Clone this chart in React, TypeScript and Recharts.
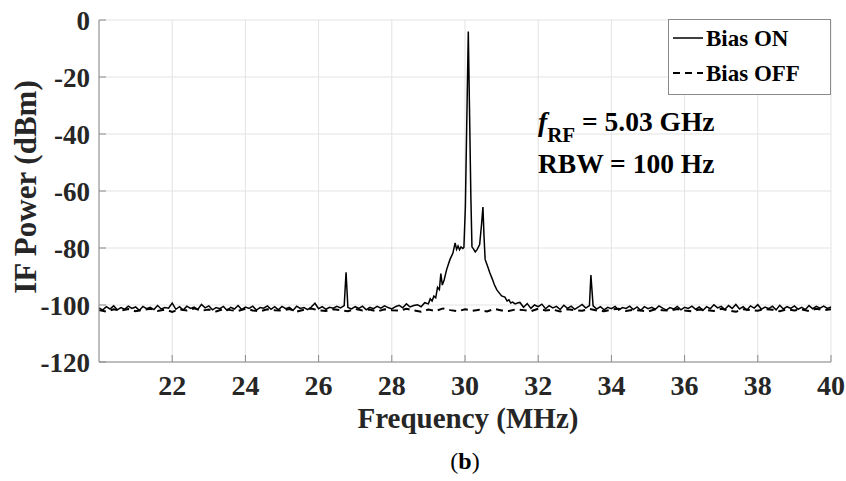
import React from "react";
import { LineChart, Line, XAxis, YAxis, CartesianGrid } from "recharts";

const onFreq = [
  20.0, 20.1, 20.2, 20.3, 20.4, 20.5, 20.6, 20.7, 20.8, 20.9,
  21.0, 21.1, 21.2, 21.3, 21.4, 21.5, 21.6, 21.7, 21.8, 21.9,
  22.0, 22.1, 22.2, 22.3, 22.4, 22.5, 22.6, 22.7, 22.8, 22.9,
  23.0, 23.1, 23.2, 23.3, 23.4, 23.5, 23.6, 23.7, 23.8, 23.9,
  24.0, 24.1, 24.2, 24.3, 24.4, 24.5, 24.6, 24.7, 24.8, 24.9,
  25.0, 25.1, 25.2, 25.3, 25.4, 25.5, 25.6, 25.7, 25.8, 25.9,
  26.0, 26.1, 26.2, 26.3, 26.4, 26.5, 26.6, 26.7, 26.75, 26.8, 26.9,
  27.0, 27.1, 27.2, 27.3, 27.4, 27.5, 27.6, 27.7, 27.8, 27.9,
  28.0, 28.1, 28.2, 28.3, 28.4, 28.5, 28.6, 28.7, 28.8, 28.9,
  29.0, 29.05, 29.1, 29.15, 29.2, 29.25, 29.3, 29.34, 29.38, 29.43,
  29.5, 29.59, 29.67, 29.73, 29.77, 29.81, 29.85, 29.89, 29.94, 29.97,
  30.01, 30.09, 30.16, 30.19, 30.23, 30.28, 30.33, 30.4, 30.45, 30.49,
  30.52, 30.55, 30.62, 30.68, 30.75, 30.8, 30.87, 30.95, 31.0, 31.09,
  31.15, 31.2, 31.25, 31.3, 31.37, 31.45,
  31.5, 31.6, 31.7, 31.8, 31.9, 32.0, 32.1, 32.2, 32.3, 32.4,
  32.5, 32.6, 32.7, 32.8, 32.9, 33.0, 33.1, 33.2, 33.3, 33.4, 33.44,
  33.5, 33.6, 33.7, 33.8, 33.9, 34.0, 34.1, 34.2, 34.3, 34.4,
  34.5, 34.6, 34.7, 34.8, 34.9, 35.0, 35.1, 35.2, 35.3, 35.4,
  35.5, 35.6, 35.7, 35.8, 35.9, 36.0, 36.1, 36.2, 36.3, 36.4,
  36.5, 36.6, 36.7, 36.8, 36.9, 37.0, 37.1, 37.2, 37.3, 37.4,
  37.5, 37.6, 37.7, 37.8, 37.9, 38.0, 38.1, 38.2, 38.3, 38.4,
  38.5, 38.6, 38.7, 38.8, 38.9, 39.0, 39.1, 39.2, 39.3, 39.4,
  39.5, 39.6, 39.7, 39.8, 39.9, 40.0,
];

const onPower = [
  -101.0, -101.8, -100.6, -101.4, -100.3, -101.7, -100.9, -101.5, -100.4, -101.2,
  -100.7, -101.9, -100.5, -101.3, -100.8, -101.6, -100.2, -101.4, -100.9, -101.1,
  -99.3, -101.5, -100.6, -101.8, -100.4, -101.2, -100.7, -101.6, -99.8, -101.0,
  -100.3, -101.7, -100.9, -101.3, -100.5, -101.9, -100.8, -101.4, -100.2, -101.6,
  -100.7, -101.2, -100.4, -101.8, -100.9, -101.1, -100.3, -101.5, -100.6, -101.7,
  -100.5, -101.3, -100.8, -101.9, -100.4, -101.2, -100.9, -101.6, -100.7, -99.4,
  -101.3, -100.6, -101.5, -100.8, -101.1, -100.5, -101.0, -100.2, -88.5, -100.9, -101.4,
  -100.6, -101.2, -100.4, -101.7, -100.8, -101.3, -100.5, -101.1, -100.3, -100.9,
  -101.4, -100.6, -100.1, -101.0, -99.6, -100.7, -100.2, -99.9, -100.6, -99.2,
  -99.6, -97.8, -98.6, -96.9, -97.5, -93.8, -94.6, -89.0, -93.0, -91.2,
  -87.5, -84.0, -81.8, -78.2, -80.5, -79.3, -80.6, -79.6, -80.2, -79.8,
  -65.6, -4.0, -62.0, -79.6, -80.3, -81.4, -80.6, -78.8, -72.0, -65.6,
  -76.0, -84.0, -86.5, -88.8, -91.0, -92.8, -94.7, -96.0, -96.8, -97.2,
  -98.6, -98.2, -99.3, -99.0, -99.6, -99.2,
  -99.1, -100.8, -99.5, -101.2, -100.0, -100.6, -99.7, -101.3, -100.2, -101.0,
  -100.5, -101.6, -100.1, -101.2, -100.4, -101.5, -100.7, -99.8, -101.1, -100.2, -89.5,
  -100.3, -101.4, -100.6, -101.7, -100.8, -101.3, -100.5, -101.8, -100.9, -101.2,
  -100.4, -101.6, -100.7, -101.9, -100.6, -101.3, -100.8, -101.5, -100.3, -101.1,
  -101.8, -100.9, -101.4, -100.5, -101.7, -100.8, -101.2, -100.4, -101.5, -100.7,
  -101.9, -100.6, -101.3, -99.9, -101.0, -100.5, -101.6, -100.2, -101.2, -99.8,
  -101.4, -100.6, -101.8, -100.3, -101.1, -99.9, -101.5, -100.7, -101.3, -100.4,
  -101.7, -100.1, -101.4, -100.6, -101.2, -100.3, -101.5, -100.8, -101.6, -100.2,
  -101.3, -100.5, -101.1, -100.4, -101.2, -100.7,
];

const offFreq = [
  20.0, 20.2, 20.4, 20.6, 20.8, 21.0, 21.2, 21.4, 21.6, 21.8,
  22.0, 22.2, 22.4, 22.6, 22.8, 23.0, 23.2, 23.4, 23.6, 23.8,
  24.0, 24.2, 24.4, 24.6, 24.8, 25.0, 25.2, 25.4, 25.6, 25.8,
  26.0, 26.2, 26.4, 26.6, 26.8, 27.0, 27.2, 27.4, 27.6, 27.8,
  28.0, 28.2, 28.4, 28.6, 28.8, 29.0, 29.2, 29.4, 29.6, 29.8,
  30.0, 30.2, 30.4, 30.6, 30.8, 31.0, 31.2, 31.4, 31.6, 31.8,
  32.0, 32.2, 32.4, 32.6, 32.8, 33.0, 33.2, 33.4, 33.6, 33.8,
  34.0, 34.2, 34.4, 34.6, 34.8, 35.0, 35.2, 35.4, 35.6, 35.8,
  36.0, 36.2, 36.4, 36.6, 36.8, 37.0, 37.2, 37.4, 37.6, 37.8,
  38.0, 38.2, 38.4, 38.6, 38.8, 39.0, 39.2, 39.4, 39.6, 39.8,
  40.0,
];

const offPower = [
  -101.8, -102.3, -101.5, -102.0, -101.4, -102.2, -101.7, -101.3, -102.1, -101.6,
  -102.4, -101.5, -101.9, -101.2, -102.0, -101.6, -102.3, -101.4, -101.8, -102.1,
  -101.3, -101.9, -102.2, -101.5, -101.8, -102.0, -101.4, -102.3, -101.7, -101.2,
  -101.9, -102.1, -101.5, -101.8, -102.2, -101.4, -101.9, -101.6, -102.3, -101.5,
  -101.8, -102.0, -101.3, -101.9, -102.4, -101.6, -102.1, -101.2, -101.8, -102.2,
  -101.5, -102.0, -101.7, -102.3, -101.4, -101.9, -102.1, -101.5, -101.8, -102.2,
  -101.3, -101.9, -101.6, -102.3, -101.5, -101.8, -102.0, -101.4, -101.9, -102.2,
  -101.6, -101.3, -102.1, -101.7, -101.9, -102.3, -101.5, -101.8, -102.0, -101.4,
  -101.9, -102.2, -101.6, -101.8, -102.1, -101.3, -101.9, -102.4, -101.5, -101.8,
  -102.0, -101.4, -101.7, -102.2, -101.5, -101.9, -101.6, -102.1, -101.3, -101.8,
  -101.5,
];

const xTicks = [22, 24, 26, 28, 30, 32, 34, 36, 38, 40];
const yTicks = [0, -20, -40, -60, -80, -100, -120];

const onData = onFreq.map((f, i) => ({ f, p: onPower[i] }));
const offData = offFreq.map((f, i) => ({ f, p: offPower[i] }));

const FONT = '"Liberation Serif", "Times New Roman", serif';
const AXIS = "#8a8a8a";
const TEXT = "#262626";
const TICK_LEN = 7;

const BottomTick = (props: any) => {
  const { x, y, payload } = props;
  return (
    <g>
      <line x1={x} x2={x} y1={y} y2={y - TICK_LEN} stroke={AXIS} strokeWidth={1} />
      <text x={x} y={y + 33} textAnchor="middle" fontFamily={FONT} fontWeight="bold" fontSize={28} fill={TEXT}>
        {payload.value}
      </text>
    </g>
  );
};

const TopTick = (props: any) => {
  const { x, y } = props;
  return <line x1={x} x2={x} y1={y} y2={y + TICK_LEN} stroke={AXIS} strokeWidth={1} />;
};

const LeftTick = (props: any) => {
  const { x, y, payload } = props;
  return (
    <g>
      <line x1={x} x2={x + TICK_LEN} y1={y} y2={y} stroke={AXIS} strokeWidth={1} />
      <text x={x - 9} y={y + 10} textAnchor="end" fontFamily={FONT} fontWeight="bold" fontSize={27} fill={TEXT}>
        {payload.value}
      </text>
    </g>
  );
};

const RightTick = (props: any) => {
  const { x, y } = props;
  return <line x1={x} x2={x - TICK_LEN} y1={y} y2={y} stroke={AXIS} strokeWidth={1} />;
};

export default function App() {
  return (
    <div style={{ position: "absolute", left: 0, top: 0, width: 846, height: 481, background: "#fff" }}>
      <LineChart width={846} height={481} margin={{ top: 20, right: 15, bottom: 89, left: 0 }}>
        <CartesianGrid stroke="#e3e3e3" strokeWidth={1} />
        <XAxis
          dataKey="f"
          type="number"
          domain={[20, 40]}
          ticks={xTicks}
          height={30}
          tickSize={0}
          tickMargin={0}
          tick={BottomTick}
          tickLine={false}
          axisLine={{ stroke: AXIS }}
          allowDuplicatedCategory={false}
        />
        <XAxis
          xAxisId="top"
          orientation="top"
          dataKey="f"
          type="number"
          domain={[20, 40]}
          ticks={xTicks}
          height={0}
          tickSize={0}
          tickMargin={0}
          tick={TopTick}
          tickLine={false}
          axisLine={{ stroke: AXIS }}
        />
        <YAxis
          type="number"
          domain={[-120, 0]}
          ticks={yTicks}
          width={99}
          tickSize={0}
          tickMargin={0}
          tick={LeftTick}
          tickLine={false}
          axisLine={{ stroke: AXIS }}
        />
        <YAxis
          yAxisId="right"
          orientation="right"
          type="number"
          domain={[-120, 0]}
          ticks={yTicks}
          width={0}
          tickSize={0}
          tickMargin={0}
          tick={RightTick}
          tickLine={false}
          axisLine={{ stroke: AXIS }}
        />
        <Line
          data={offData}
          dataKey="p"
          type="linear"
          stroke="#000"
          strokeWidth={2}
          strokeDasharray="7 5"
          dot={false}
          isAnimationActive={false}
        />
        <Line
          data={onData}
          dataKey="p"
          type="linear"
          stroke="#000"
          strokeWidth={1.5}
          dot={false}
          isAnimationActive={false}
        />
      </LineChart>
      <svg width={846} height={481} style={{ position: "absolute", left: 0, top: 0, pointerEvents: "none" }}>
        <text
          transform="translate(36,187) rotate(-90)"
          textAnchor="middle"
          fontFamily={FONT}
          fontWeight="bold"
          fontSize={31}
          fill={TEXT}
        >
          IF Power (dBm)
        </text>
        <text x={468} y={428} textAnchor="middle" fontFamily={FONT} fontWeight="bold" fontSize={29} fill={TEXT}>
          Frequency (MHz)
        </text>
        <text x={465} y={469} textAnchor="middle" fontFamily={FONT} fontSize={24} fill="#000">
          (<tspan fontWeight="bold">b</tspan>)
        </text>
        <rect x={668.5} y={19.5} width={162} height={75} fill="#fff" stroke={AXIS} strokeWidth={1} />
        <line x1={673} x2={703} y1={38} y2={38} stroke="#000" strokeWidth={1.5} />
        <text x={706} y={46} fontFamily={FONT} fontWeight="bold" fontSize={23} fill="#000">
          Bias ON
        </text>
        <line x1={673} x2={703} y1={73} y2={73} stroke="#000" strokeWidth={2} strokeDasharray="7 5" />
        <text x={706} y={81} fontFamily={FONT} fontWeight="bold" fontSize={23} fill="#000">
          Bias OFF
        </text>
        <text x={538} y={131} fontFamily={FONT} fontWeight="bold" fontSize={27.5} fill="#000">
          <tspan fontStyle="italic">f</tspan>
          <tspan fontSize={21} dy={11}>RF</tspan>
          <tspan dy={-11}> = 5.03 GHz</tspan>
        </text>
        <text x={538} y={173} fontFamily={FONT} fontWeight="bold" fontSize={27.5} fill="#000">
          RBW = 100 Hz
        </text>
      </svg>
    </div>
  );
}
